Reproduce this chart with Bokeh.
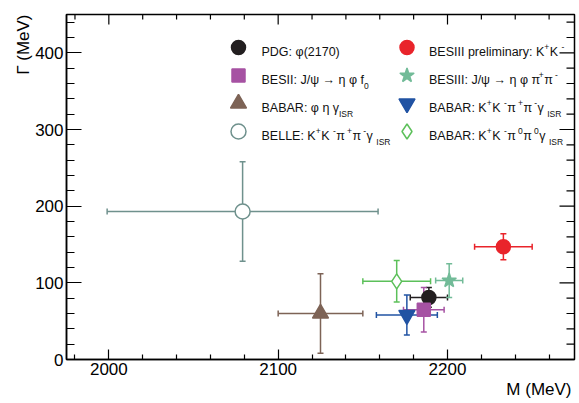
from bokeh.plotting import figure
from bokeh.models import Range1d, FixedTicker, Whisker, TeeHead, ColumnDataSource, Label, Title
from bokeh.embed import file_html
from bokeh.resources import INLINE

# ---------------- data ----------------
experiments = ["PDG", "BESII", "BABAR_phieta", "BELLE", "BESIII_KK",
               "BESIII_etaphipipi", "BABAR_KKpipi", "BABAR_KKpi0pi0"]
mass = [2189, 2186, 2125, 2079, 2233, 2201, 2176, 2170]          # MeV
mass_err = [11, 12, 25, 80, 17, 8, 18, 20]
gamma = [81, 65, 60, 193, 147, 103, 58, 102]                      # MeV
gamma_err = [13, 29, 52, 65, 17, 22, 26, 27]

x_major = [2000, 2100, 2200]
x_minor = [1980, 2020, 2040, 2060, 2080, 2120, 2140, 2160, 2180, 2220, 2240, 2260]
y_major = [0, 100, 200, 300, 400]
y_minor = [20, 40, 60, 80, 120, 140, 160, 180, 220, 240, 260, 280, 320, 340, 360, 380, 420, 440]

x_title = "M (MeV)"
y_title = "Γ (MeV)"

# draw order (bottom to top)
order = ["BELLE", "BABAR_phieta", "BABAR_KKpi0pi0", "PDG", "BESII",
         "BABAR_KKpipi", "BESIII_etaphipipi", "BESIII_KK"]

# ---------------- styles ----------------
styles = {
    "PDG": dict(marker="circle", size=14, fill="#231f20", line="#231f20"),
    "BESII": dict(marker="square", size=13, fill="#a652a3", line="#a652a3"),
    "BABAR_phieta": dict(marker="triangle", size=16, fill="#7d6356", line="#7d6356"),
    "BELLE": dict(marker="circle", size=15, fill="white", line="#6f918d"),
    "BESIII_KK": dict(marker="circle", size=14, fill="#e9242b", line="#e9242b"),
    "BESIII_etaphipipi": dict(marker="star", size=15, fill="#72bb98", line="#72bb98"),
    "BABAR_KKpipi": dict(marker="inverted_triangle", size=16, fill="#2153a3", line="#2153a3"),
    "BABAR_KKpi0pi0": dict(marker="diamond", size=15, fill="white", line="#5cc05a"),
}

FONT = "Liberation Sans"
XR = (1975, 2275)
YR = (0, 450)
# frame in page pixels (layout helpers)
W, H = 579, 403
FL, FR, FT, FB = 66, 574, 14, 359


def px2x(px):
    return XR[0] + (px - FL) * (XR[1] - XR[0]) / (FR - FL)


def px2y(py):
    return YR[0] + (FB - py) * (YR[1] - YR[0]) / (FB - FT)


DX = (XR[1] - XR[0]) / (FR - FL)   # data units per pixel
DY = (YR[1] - YR[0]) / (FB - FT)

p = figure(width=W, height=H, x_range=Range1d(*XR), y_range=Range1d(*YR),
           output_backend="svg", toolbar_location=None,
           min_border_left=FL, min_border_right=W - FR, min_border_top=FT, min_border_bottom=H - FB)
p.grid.visible = False
p.outline_line_color = "black"
p.outline_line_width = 1.5
p.background_fill_color = "white"
p.border_fill_color = "white"


def style_axis(ax, ticks, minor, tin, min_in):
    ax.ticker = FixedTicker(ticks=ticks, minor_ticks=minor)
    ax.axis_line_color = "black"
    ax.axis_line_width = 1.5
    ax.major_tick_line_color = "black"
    ax.minor_tick_line_color = "black"
    ax.major_tick_line_width = 1.2
    ax.minor_tick_line_width = 1.2
    ax.major_tick_in = tin
    ax.major_tick_out = 0
    ax.minor_tick_in = min_in
    ax.minor_tick_out = 0
    ax.major_label_text_font = FONT
    ax.major_label_text_color = "black"
    ax.major_label_text_font_size = "17px"
    ax.major_label_standoff = 3


style_axis(p.xaxis[0], x_major, x_minor, 10, 5)
style_axis(p.yaxis[0], y_major, y_minor, 15, 8)

# axis titles, ROOT style: at the far end of each axis
p.add_layout(Title(text=x_title, align="right", offset=3, standoff=0, text_font=FONT,
                   text_font_size="17px", text_font_style="normal", text_color="black"), "below")
p.add_layout(Title(text=y_title, align="right", offset=0, standoff=0, text_font=FONT,
                   text_font_size="17px", text_font_style="normal", text_color="black"), "left")

# mirrored ticks on the top and right frame edges
x_ticks_all = x_major + x_minor
x_len = [10] * len(x_major) + [5] * len(x_minor)
p.segment(x0=x_ticks_all, y0=[YR[1]] * len(x_ticks_all), x1=x_ticks_all,
          y1=[YR[1] - l * DY for l in x_len], line_color="black", line_width=1.2)
y_ticks_all = y_major + y_minor
y_len = [15] * len(y_major) + [8] * len(y_minor)
p.segment(x0=[XR[1]] * len(y_ticks_all), y0=y_ticks_all, x1=[XR[1] - l * DX for l in y_len],
          y1=y_ticks_all, line_color="black", line_width=1.2)

# ---------------- error bars + markers ----------------
for name in order:
    i = experiments.index(name)
    st = styles[name]
    src = ColumnDataSource(dict(
        x=[mass[i]], y=[gamma[i]],
        xlo=[mass[i] - mass_err[i]], xhi=[mass[i] + mass_err[i]],
        ylo=[gamma[i] - gamma_err[i]], yhi=[gamma[i] + gamma_err[i]]))
    for dim, base, lo, hi in (("width", "y", "xlo", "xhi"), ("height", "x", "ylo", "yhi")):
        w = Whisker(source=src, base=base, lower=lo, upper=hi, dimension=dim,
                    line_color=st["line"], line_width=1.5,
                    lower_head=TeeHead(size=6, line_color=st["line"], line_width=1.5),
                    upper_head=TeeHead(size=6, line_color=st["line"], line_width=1.5))
        p.add_layout(w)

for name in order:
    i = experiments.index(name)
    st = styles[name]
    p.scatter([mass[i]], [gamma[i]], marker=st["marker"], size=st["size"],
              fill_color=st["fill"], line_color=st["line"], line_width=1.5)

# ---------------- legend ----------------
HWID = {' ': 278, ':': 278, '(': 333, ')': 333, '/': 278, '+': 584, '-': 333,
        '0': 556, '1': 556, '2': 556, '7': 556,
        'A': 667, 'B': 667, 'D': 722, 'E': 667, 'G': 778, 'I': 278, 'J': 500, 'K': 667,
        'L': 556, 'M': 833, 'P': 667, 'R': 722, 'S': 667, 'V': 667,
        'a': 556, 'e': 556, 'f': 278, 'i': 222, 'l': 222, 'm': 833, 'n': 556, 'p': 556,
        'r': 333, 'y': 500,
        'φ': 640, 'η': 556, 'γ': 500, 'π': 580, 'ψ': 720, '→': 1000}


def tw(s, fs):
    return sum(HWID.get(c, 556) for c in s) * fs / 1000.0


LEG_FS = 12.5
SUB_FS = 8.5


def rich(segments, x0, yc):
    base = yc + 4.7
    x = x0
    for txt, kind in segments:
        if kind == "n":
            fs, yb = LEG_FS, base
        elif kind == "sup":
            fs, yb = SUB_FS, base - 5
        else:
            fs, yb = SUB_FS, base + 6
        p.add_layout(Label(x=px2x(x), y=px2y(yb), text=txt, text_font=FONT,
                           text_font_size=f"{fs}px", text_baseline="alphabetic",
                           text_align="left", text_color="#111111"))
        x += tw(txt, fs) + (0.5 if kind != "n" else 0)


legend_entries = {
    "PDG": [("PDG: φ(2170)", "n")],
    "BESII": [("BESII: J/ψ → η φ f", "n"), ("0", "sub")],
    "BABAR_phieta": [("BABAR: φ η γ", "n"), ("ISR", "sub")],
    "BELLE": [("BELLE: K", "n"), ("+", "sup"), (" K", "n"), ("-", "sup"), (" π", "n"),
              ("+", "sup"), (" π", "n"), ("-", "sup"), (" γ", "n"), ("ISR", "sub")],
    "BESIII_KK": [("BESIII preliminary: K", "n"), ("+", "sup"), (" K", "n"), ("-", "sup")],
    "BESIII_etaphipipi": [("BESIII: J/ψ → η φ π", "n"), ("+", "sup"), (" π", "n"), ("-", "sup")],
    "BABAR_KKpipi": [("BABAR: K", "n"), ("+", "sup"), (" K", "n"), ("-", "sup"), (" π", "n"),
                     ("+", "sup"), (" π", "n"), ("-", "sup"), (" γ", "n"), ("ISR", "sub")],
    "BABAR_KKpi0pi0": [("BABAR: K", "n"), ("+", "sup"), (" K", "n"), ("-", "sup"), (" π", "n"),
                       ("0", "sup"), (" π", "n"), ("0", "sup"), (" γ", "n"), ("ISR", "sub")],
}
legend_left = ["PDG", "BESII", "BABAR_phieta", "BELLE"]
legend_right = ["BESIII_KK", "BESIII_etaphipipi", "BABAR_KKpipi", "BABAR_KKpi0pi0"]
row_y = [47, 75, 103, 131]
for col, mx, tx in ((legend_left, 238, 261), (legend_right, 406.5, 428.5)):
    for r, name in enumerate(col):
        st = styles[name]
        p.scatter([px2x(mx)], [px2y(row_y[r])], marker=st["marker"], size=st["size"],
                  fill_color=st["fill"], line_color=st["line"], line_width=1.5)
        rich(legend_entries[name], tx, row_y[r])

open("out.html", "w").write(file_html(p, INLINE))
